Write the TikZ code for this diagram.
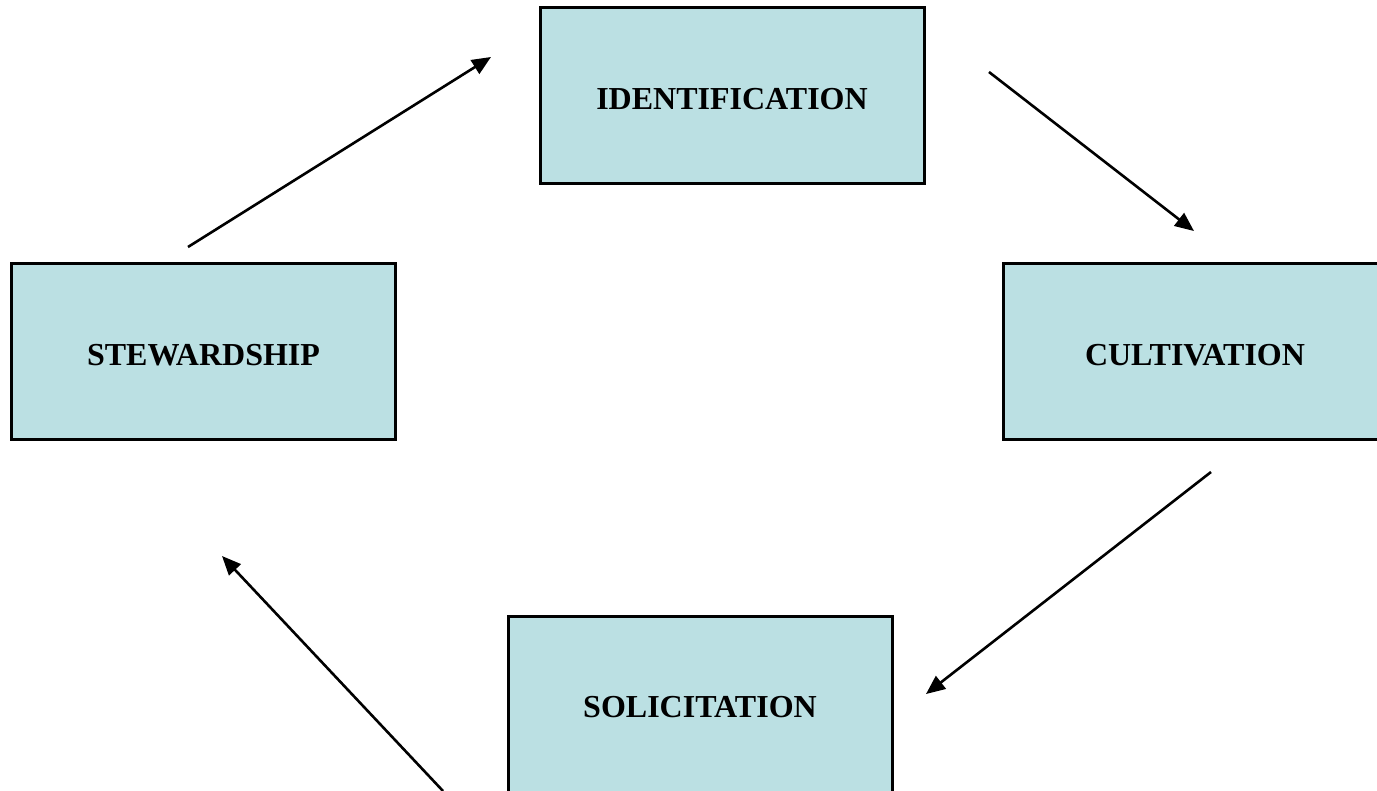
\documentclass[tikz,border=0pt]{standalone}
\usepackage{fontspec}
\setmainfont{Liberation Serif}
\usetikzlibrary{arrows.meta}
\definecolor{boxfill}{HTML}{BBE0E3}
\tikzset{
  stage/.style={draw=black, line width=3pt, fill=boxfill, minimum width=384pt, minimum height=176pt, inner sep=0pt, text height=27pt, text depth=0pt, font=\fontsize{32}{38}\selectfont\bfseries},
  flow/.style={line width=2.6pt, -{Triangle[length=19pt,width=16pt]}}
}
\begin{document}
\begin{tikzpicture}[x=1pt,y=-1pt]
\useasboundingbox (0,0) rectangle (1377,791);
\clip (0,0) rectangle (1377,791);
\node[stage] (ident) at (732,96) {IDENTIFICATION};
\node[stage] (stew) at (203.5,352) {STEWARDSHIP};
\node[stage] (cult) at (1195,352) {CULTIVATION};
\node[stage] (solic) at (700,704) {SOLICITATION};
\coordinate (a1s) at (188,247); \coordinate (a1e) at (491,57);
\coordinate (a2s) at (989,72);  \coordinate (a2e) at (1194,231);
\coordinate (a3s) at (1211,472); \coordinate (a3e) at (926,694);
\coordinate (a4s) at (443,791); \coordinate (a4e) at (222,556);
\draw[flow] (a1s) -- (a1e);
\draw[flow] (a2s) -- (a2e);
\draw[flow] (a3s) -- (a3e);
\draw[flow] (a4s) -- (a4e);
\end{tikzpicture}
\end{document}
